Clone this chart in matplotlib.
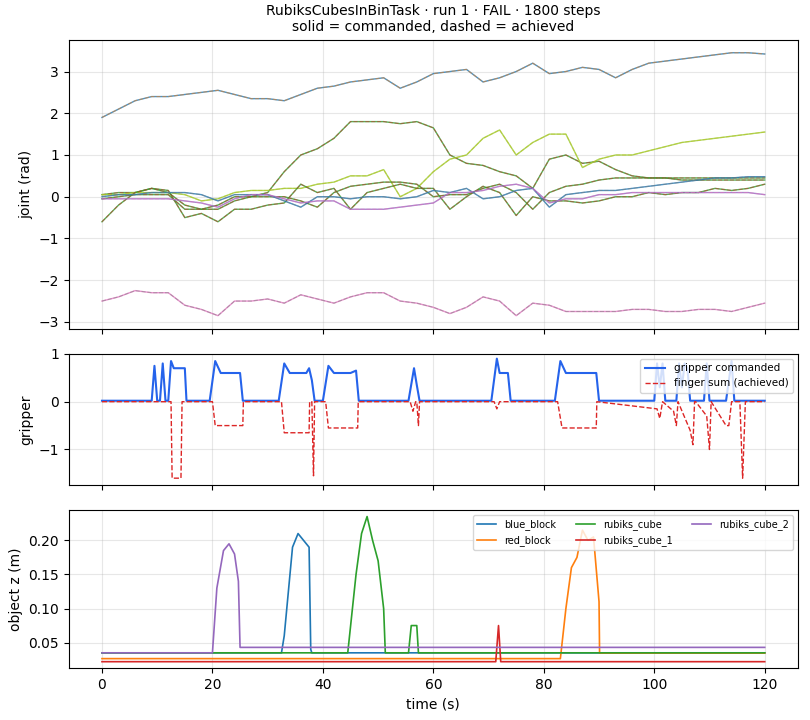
import numpy as np
import matplotlib.pyplot as plt

# joint trajectories, sampled every 3 s
t_joint = np.arange(0, 121, 3)
j_base = [1.9, 2.1, 2.3, 2.4, 2.4, 2.45, 2.5, 2.55, 2.45, 2.35, 2.35, 2.3, 2.45, 2.6, 2.65, 2.75, 2.8, 2.85, 2.6, 2.75,
          2.95, 3.0, 3.05, 2.75, 2.85, 3.0, 3.2, 2.95, 3.0, 3.1, 3.05, 2.85, 3.05, 3.2, 3.25, 3.3, 3.35, 3.4, 3.45, 3.45, 3.42]
j_shoulder = [0.05, 0.1, 0.1, 0.2, 0.1, -0.2, -0.3, -0.2, 0.0, 0.0, 0.1, 0.6, 1.0, 1.15, 1.4, 1.8, 1.8, 1.8, 1.75, 1.8,
              1.65, 1.0, 0.8, 0.75, 0.6, 0.5, 0.2, 0.9, 1.0, 0.8, 0.85, 0.65, 0.5, 0.45, 0.45, 0.4, 0.4, 0.4, 0.4, 0.4, 0.4]
j_elbow = [0.05, 0.05, 0.1, 0.1, 0.1, 0.05, -0.1, -0.05, 0.1, 0.15, 0.15, 0.2, 0.2, 0.3, 0.35, 0.5, 0.5, 0.65, 0.0, 0.2,
           0.6, 0.9, 1.0, 1.4, 1.6, 1.0, 1.3, 1.5, 1.5, 0.7, 0.9, 1.0, 1.0, 1.1, 1.2, 1.3, 1.35, 1.4, 1.45, 1.5, 1.55]
j_wrist1 = [-0.6, -0.2, 0.1, 0.2, 0.15, -0.5, -0.4, -0.6, -0.3, -0.3, -0.2, -0.15, 0.3, 0.1, 0.2, -0.3, 0.1, 0.2, 0.3, 0.2,
            0.2, -0.3, 0.0, 0.25, 0.1, -0.45, 0.0, -0.1, -0.1, -0.15, -0.1, 0.0, 0.0, 0.1, 0.05, 0.1, 0.1, 0.2, 0.15, 0.2, 0.3]
j_wrist2 = [-0.05, 0.0, 0.05, 0.05, 0.05, -0.3, -0.3, -0.3, -0.1, 0.0, 0.0, 0.0, -0.1, -0.25, 0.1, 0.25, 0.3, 0.35, 0.35, 0.3,
            0.0, 0.05, 0.05, 0.2, 0.3, 0.1, -0.3, 0.1, 0.25, 0.3, 0.4, 0.45, 0.45, 0.45, 0.45, 0.45, 0.45, 0.45, 0.45, 0.45, 0.45]
j_wrist3 = [0.0, 0.05, 0.05, 0.1, 0.1, 0.1, 0.05, -0.1, 0.05, 0.05, 0.05, -0.1, -0.25, 0.0, 0.0, -0.05, 0.0, 0.0, -0.05, 0.0,
            0.15, 0.1, 0.2, -0.05, 0.0, 0.15, 0.2, -0.25, 0.05, 0.1, 0.15, 0.15, 0.2, 0.25, 0.3, 0.35, 0.4, 0.45, 0.45, 0.48, 0.48]
j_wrist4 = [-0.05, -0.05, -0.05, -0.05, -0.05, -0.1, -0.15, -0.25, -0.05, 0.05, 0.05, -0.05, -0.15, -0.1, -0.1, -0.3, -0.3, -0.3, -0.25, -0.2,
            -0.15, 0.1, 0.1, 0.15, 0.25, 0.3, 0.2, -0.15, -0.05, -0.05, 0.05, 0.05, 0.1, 0.1, 0.1, 0.1, 0.1, 0.1, 0.1, 0.1, 0.05]
j_pink = [-2.5, -2.4, -2.25, -2.3, -2.3, -2.6, -2.7, -2.85, -2.5, -2.5, -2.45, -2.55, -2.35, -2.45, -2.55, -2.4, -2.3, -2.3, -2.5, -2.55,
          -2.65, -2.8, -2.65, -2.4, -2.5, -2.85, -2.55, -2.6, -2.75, -2.75, -2.75, -2.75, -2.7, -2.7, -2.75, -2.75, -2.7, -2.7, -2.75, -2.65, -2.55]
joints = [j_base, j_shoulder, j_elbow, j_wrist1, j_wrist2, j_wrist3, j_wrist4, j_pink]
cmd_colors = ['tab:blue', 'tab:green', 'yellowgreen', 'tab:green', 'tab:green', 'tab:blue', 'tab:purple', 'tab:pink']
ach_colors = ['tab:orange', 'tab:red', 'tab:olive', 'tab:red', 'tab:red', 'tab:gray', 'tab:pink', 'tab:gray']

# gripper
t_grip = [0, 9, 9.5, 10, 10.5, 11, 11.5, 12, 12.5, 13, 15, 15.3, 19.5, 20.5, 21.5, 25, 25.5, 32, 33, 34, 37, 37.5, 38, 38.5,
          40, 41, 42, 45, 46, 46.5, 55.5, 56.5, 57, 57.5, 70.5, 71.5, 72, 73.5, 74, 82, 83, 84, 89.5, 90,
          100, 100.5, 101, 101.5, 102, 104, 104.5, 105, 105.5, 106, 106.5, 109, 109.5, 110, 113, 114, 114.5, 120]
g_cmd = [0.02, 0.02, 0.75, 0.02, 0.02, 0.8, 0.02, 0.02, 0.85, 0.7, 0.7, 0.02, 0.02, 0.85, 0.6, 0.6, 0.02, 0.02, 0.8, 0.6, 0.6, 0.7, 0.45, 0.02,
         0.02, 0.75, 0.6, 0.6, 0.65, 0.02, 0.02, 0.7, 0.35, 0.02, 0.02, 0.9, 0.6, 0.6, 0.02, 0.02, 0.85, 0.6, 0.6, 0.02,
         0.02, 0.8, 0.3, 0.8, 0.02, 0.02, 0.8, 0.3, 0.8, 0.7, 0.02, 0.02, 0.8, 0.02, 0.02, 0.85, 0.02, 0.02]
t_fing = [0, 12.5, 12.7, 14.3, 14.5, 20, 20.5, 25.5, 25.6, 32.5, 33, 37.5, 37.6, 38, 38.3, 38.5, 40.5, 41, 46.3, 46.4,
          55.8, 56.3, 56.8, 57, 57.3, 57.5, 71, 71.5, 72, 82.5, 83.3, 89.5, 89.6, 100.5, 101, 101.5, 103.5, 104, 104.3,
          106.5, 107, 107.3, 107.5, 109.5, 110, 110.3, 113, 113.5, 114, 115.5, 116, 116.5, 120]
g_fing = [0, 0, -1.6, -1.6, 0, 0, -0.5, -0.5, 0, 0, -0.65, -0.65, 0, 0, -1.55, 0, 0, -0.55, -0.55, 0,
          0, -0.2, 0, 0, -0.5, 0, 0, -0.15, 0, 0, -0.55, -0.55, 0, -0.15, -0.35, 0, -0.2, -0.5, 0,
          -0.6, -0.9, 0, 0, -0.3, -1.0, 0, -0.5, -0.5, 0, 0, -1.6, 0, 0]

# object heights
objects = ['blue_block', 'red_block', 'rubiks_cube', 'rubiks_cube_1', 'rubiks_cube_2']
obj_colors = ['tab:blue', 'tab:orange', 'tab:green', 'tab:red', 'tab:purple']
t_blue = [0, 32.5, 33, 34.5, 35.5, 36.5, 37.5, 37.8, 38, 120]
z_blue = [0.035, 0.035, 0.06, 0.19, 0.21, 0.2, 0.19, 0.04, 0.035, 0.035]
t_red = [0, 83, 84, 85, 86, 87, 88, 89, 90, 90.1, 120]
z_red = [0.0265, 0.0265, 0.1, 0.16, 0.175, 0.215, 0.2, 0.205, 0.11, 0.0345, 0.0345]
t_rc = [0, 44.5, 46, 47, 48, 49, 50, 51, 51.3, 55.5, 56, 57, 57.3, 120]
z_rc = [0.035, 0.035, 0.15, 0.21, 0.235, 0.2, 0.17, 0.1, 0.035, 0.035, 0.075, 0.075, 0.035, 0.035]
t_rc1 = [0, 71.3, 71.8, 72.2, 120]
z_rc1 = [0.022, 0.022, 0.075, 0.022, 0.022]
t_rc2 = [0, 20, 20.8, 22, 23, 24, 24.7, 25, 120]
z_rc2 = [0.035, 0.035, 0.13, 0.185, 0.195, 0.18, 0.14, 0.043, 0.043]
obj_t = [t_blue, t_red, t_rc, t_rc1, t_rc2]
obj_z = [z_blue, z_red, z_rc, z_rc1, z_rc2]

fig, (ax1, ax2, ax3) = plt.subplots(3, 1, figsize=(8.1, 7.2), sharex=True,
                                    gridspec_kw={'height_ratios': [2.2, 1, 1.2]})
fig.subplots_adjust(left=0.085, right=0.985, top=0.945, bottom=0.072, hspace=0.13)

for vals, c1, c2 in zip(joints, cmd_colors, ach_colors):
    ax1.plot(t_joint, vals, color=c1, lw=1.0, alpha=0.8)
    ax1.plot(t_joint, vals, color=c2, lw=0.8, ls='--', alpha=0.5)
ax1.set_ylabel('joint (rad)')
ax1.set_title('RubiksCubesInBinTask · run 1 · FAIL · 1800 steps\nsolid = commanded, dashed = achieved', fontsize=10)
ax1.grid(alpha=0.3)

ax2.plot(t_grip, g_cmd, color='#2563eb', lw=1.5, label='gripper commanded')
ax2.plot(t_fing, g_fing, color='#dc2626', lw=1.0, ls='--', label='finger sum (achieved)')
ax2.set_ylabel('gripper')
ax2.set_ylim(-1.75, 1.0)
ax2.set_yticks([-1, 0, 1])
ax2.legend(loc='upper right', fontsize=7.5)
ax2.grid(alpha=0.3)

for name, c, tt, zz in zip(objects, obj_colors, obj_t, obj_z):
    ax3.plot(tt, zz, color=c, lw=1.2, label=name)
ax3.set_ylabel('object z (m)')
ax3.set_xlabel('time (s)')
ax3.set_ylim(0.0125, 0.244)
ax3.legend(loc='upper right', ncol=3, fontsize=7)
ax3.grid(alpha=0.3)
ax3.set_xlim(-6, 126)

fig.savefig('out.png', dpi=100)
